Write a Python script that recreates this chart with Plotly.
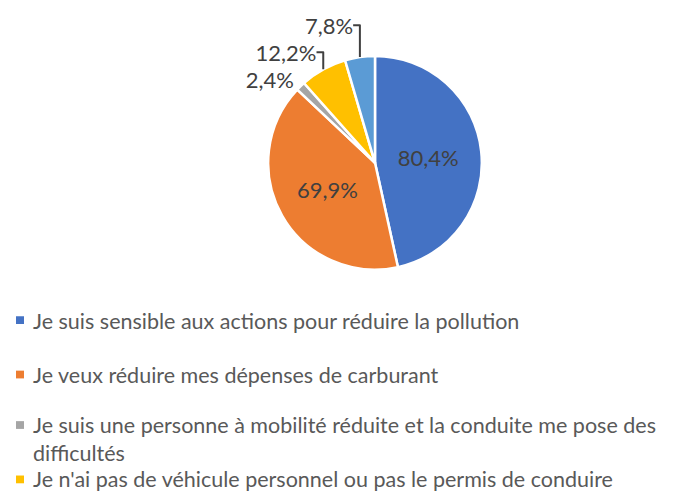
import plotly.graph_objects as go

labels = [
    "Je suis sensible aux actions pour réduire la pollution",
    "Je veux réduire mes dépenses de carburant",
    "Je suis une personne à mobilité réduite et la conduite me pose des<br>difficultés",
    "Je n'ai pas de véhicule personnel ou pas le permis de conduire",
    "Autre",
]
values = [80.4, 69.9, 2.4, 12.2, 7.8]
text_labels = ["80,4%", "69,9%", "2,4%", "12,2%", "7,8%"]
colors = ["#4472C4", "#ED7D31", "#A5A5A5", "#FFC000", "#5B9BD5"]
text_pos = ["inside", "inside", "outside", "outside", "outside"]
legend_shown = 4  # only the first four legend entries fit in the picture

# page has an 8px body margin; figure fills the rest of the 685x493 window
FW, FH = 677, 485
FONT = "Lato"


def px(x):
    return x / FW


def py(y):
    return 1 - y / FH


fig = go.Figure()
fig.add_trace(go.Pie(
    labels=labels,
    values=values,
    text=text_labels,
    textinfo="text",
    textposition=text_pos,
    sort=False,
    direction="clockwise",
    rotation=0,
    marker=dict(colors=colors, line=dict(color="white", width=2.5)),
    textfont=dict(family=FONT, size=22, color="#404040"),
    insidetextorientation="horizontal",
    showlegend=False,
    domain=dict(x=[px(257), px(477)], y=[py(255), py(35)]),
    hoverinfo="label+text",
))

# manual legend (figure coordinates)
legend_text_y = [308, 363, 429, 471]
legend_box_y = [307, 363, 415, 471]
for lab, col, ty, by in zip(labels[:legend_shown], colors[:legend_shown],
                            legend_text_y, legend_box_y):
    fig.add_shape(type="rect", xref="paper", yref="paper",
                  x0=px(8), x1=px(16), y0=py(by + 4), y1=py(by - 4),
                  fillcolor=col, line=dict(width=0))
    fig.add_annotation(xref="paper", yref="paper", x=px(23), y=py(ty),
                       text=lab, showarrow=False, xanchor="left", yanchor="middle",
                       align="left",
                       font=dict(family=FONT, size=21.5, color="#595959"))

fig.update_layout(
    width=FW, height=FH,
    margin=dict(l=0, r=0, t=0, b=0),
    paper_bgcolor="white",
    plot_bgcolor="white",
)
fig.write_html("out.html")
